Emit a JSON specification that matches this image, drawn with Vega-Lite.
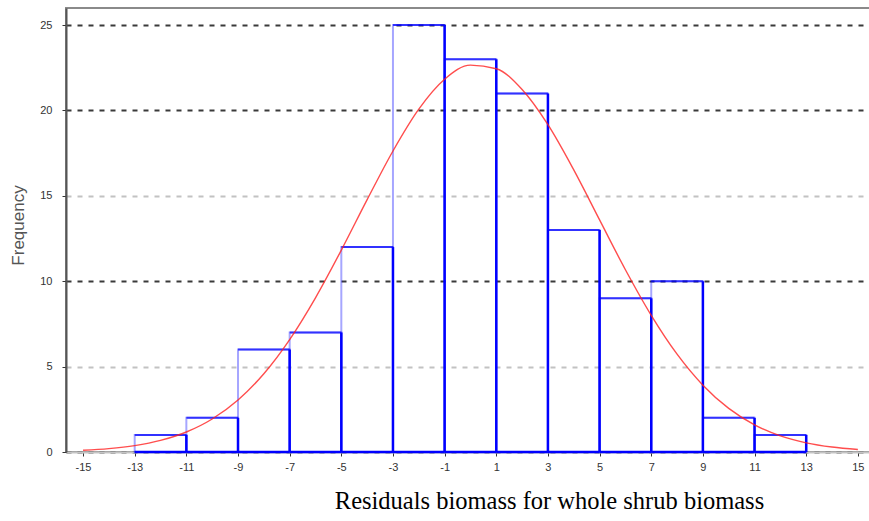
{
  "$schema": "https://vega.github.io/schema/vega-lite/v6.json",
  "autosize": "none",
  "width": 804,
  "height": 444,
  "padding": {"left": 66, "top": 8, "right": 0, "bottom": 69},
  "background": "white",
  "config": {
    "view": {"stroke": "#8a8a8a", "strokeWidth": 2},
    "axis": {"labelFont": "Liberation Sans", "labelFontSize": 11, "labelColor": "#333333", "titleFont": "Liberation Sans"}
  },
  "datasets": {
    "bins": [
      {"start": -13, "end": -11, "count": 1},
      {"start": -11, "end": -9, "count": 2},
      {"start": -9, "end": -7, "count": 6},
      {"start": -7, "end": -5, "count": 7},
      {"start": -5, "end": -3, "count": 12},
      {"start": -3, "end": -1, "count": 25},
      {"start": -1, "end": 1, "count": 23},
      {"start": 1, "end": 3, "count": 21},
      {"start": 3, "end": 5, "count": 13},
      {"start": 5, "end": 7, "count": 9},
      {"start": 7, "end": 9, "count": 10},
      {"start": 9, "end": 11, "count": 2},
      {"start": 11, "end": 13, "count": 1}
    ],
    "curve": [
      {"x": -15, "y": 0.099}, {"x": -14, "y": 0.197}, {"x": -13, "y": 0.373},
      {"x": -12, "y": 0.677}, {"x": -11, "y": 1.17}, {"x": -10, "y": 1.932},
      {"x": -9, "y": 3.046}, {"x": -8, "y": 4.584}, {"x": -7, "y": 6.585},
      {"x": -6, "y": 9.031}, {"x": -5, "y": 11.822}, {"x": -4, "y": 14.776},
      {"x": -3, "y": 17.627}, {"x": -2, "y": 20.076}, {"x": -1, "y": 21.826},
      {"x": 0, "y": 22.653}, {"x": 1, "y": 22.443}, {"x": 2, "y": 21.226},
      {"x": 3, "y": 19.165}, {"x": 4, "y": 16.518}, {"x": 5, "y": 13.59},
      {"x": 6, "y": 10.674}, {"x": 7, "y": 8.003}, {"x": 8, "y": 5.729},
      {"x": 9, "y": 3.914}, {"x": 10, "y": 2.553}, {"x": 11, "y": 1.589},
      {"x": 12, "y": 0.945}, {"x": 13, "y": 0.536}, {"x": 14, "y": 0.291},
      {"x": 15, "y": 0.15}
    ]
  },
  "layer": [
    {
      "data": {"name": "bins"},
      "mark": {"type": "rect", "fill": null, "stroke": "#0000ff", "strokeOpacity": 0.35, "strokeWidth": 2},
      "encoding": {
        "x": {
          "field": "start", "type": "quantitative",
          "scale": {"domain": [-15.66, 15.47], "nice": false, "zero": false},
          "axis": {
            "values": [-15, -13, -11, -9, -7, -5, -3, -1, 1, 3, 5, 7, 9, 11, 13, 15],
            "labelExpr": "'' + datum.value",
            "grid": false,
            "domainColor": "#c4c4c4", "domainWidth": 2,
            "tickColor": "#333333", "tickSize": 4, "tickWidth": 1,
            "labelPadding": 5,
            "title": "Residuals biomass for whole shrub biomass",
            "titleFont": "Liberation Serif", "titleFontSize": 24.5, "titleFontWeight": "normal",
            "titleColor": "#000000",
            "titleX": 483, "titleY": 56, "titleAlign": "center", "titleAnchor": null,
            "titleBaseline": "alphabetic"
          }
        },
        "x2": {"field": "end"},
        "y": {
          "field": "count", "type": "quantitative",
          "scale": {"domain": [0, 26], "nice": false},
          "axis": {
            "values": [0, 5, 10, 15, 20, 25],
            "grid": true,
            "gridDash": [5, 6],
            "gridWidth": 2,
            "gridColor": {"condition": {"test": "datum.value === 5 || datum.value === 15", "value": "#c2c2c2"}, "value": "#3a3a3a"},
            "domainColor": "#555555", "domainWidth": 2,
            "tickColor": "#333333", "tickSize": 4, "tickWidth": 1,
            "labelPadding": 10,
            "title": "Frequency",
            "titleFontSize": 17, "titleFontWeight": "normal", "titleColor": "#555555",
            "titleAngle": -90, "titleX": -48, "titleY": 217,
            "titleAlign": "center", "titleAnchor": null, "titleBaseline": "middle"
          }
        },
        "y2": {"datum": 0}
      }
    },
    {
      "data": {"name": "bins"},
      "mark": {"type": "rule", "color": "#0000ff", "strokeWidth": 2, "opacity": 0.7},
      "encoding": {
        "x": {"field": "start", "type": "quantitative"},
        "x2": {"field": "end"},
        "y": {"field": "count", "type": "quantitative"}
      }
    },
    {
      "data": {"name": "bins"},
      "mark": {"type": "rule", "color": "#0000ff", "strokeWidth": 2.5},
      "encoding": {
        "x": {"field": "end", "type": "quantitative"},
        "y": {"field": "count", "type": "quantitative"},
        "y2": {"datum": 0}
      }
    },
    {
      "data": {"name": "bins"},
      "mark": {"type": "rule", "color": "#0000ff", "strokeWidth": 2.5},
      "encoding": {
        "x": {"field": "start", "type": "quantitative"},
        "x2": {"field": "end"},
        "y": {"datum": 0}
      }
    },
    {
      "data": {"name": "curve"},
      "mark": {"type": "line", "color": "#ff2020", "strokeWidth": 1.4, "opacity": 0.8, "interpolate": "monotone"},
      "encoding": {
        "x": {"field": "x", "type": "quantitative"},
        "y": {"field": "y", "type": "quantitative"}
      }
    }
  ]
}
